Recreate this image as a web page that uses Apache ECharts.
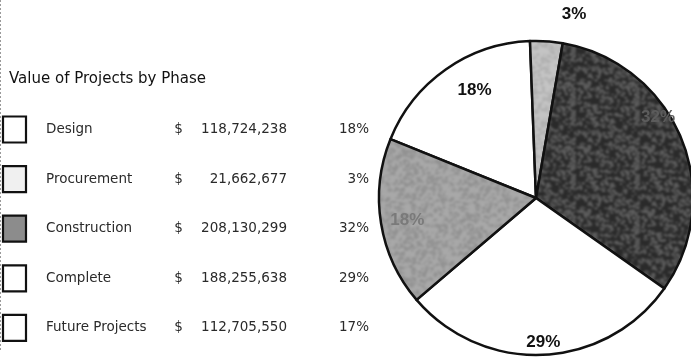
<!DOCTYPE html>
<html>
<head>
<meta charset="utf-8">
<script src="https://cdn.jsdelivr.net/npm/echarts@6/dist/echarts.min.js"></script>
<style>
  html, body { margin: 0; padding: 0; background: #ffffff; }
  #chart { width: 691px; height: 358px; }
</style>
</head>
<body>
<div id="chart"></div>
<script>
// ---- data ----
const tableTitle = 'Value of Projects by Phase';
const phases = ['Design', 'Procurement', 'Construction', 'Complete', 'Future Projects'];
const amounts = [118724238, 21662677, 208130299, 188255638, 112705550];

// ---- styling ----
const sliceBase = ['#ffffff', '#c4c4c4', '#2a2a2a', '#ffffff', '#a8a8a8'];
const sliceSpeck = [null, '#b0b0b0', '#5e5e5e', null, '#919191'];
const boxFills = ['#ffffff', '#f0f0f0', '#8c8c8c', '#ffffff', '#ffffff'];
const labelColors = ['#111111', '#111111', '#5c5c5c', '#111111', '#7a7a7a'];
const labelNudge = [[17, 4], [29, -47], [-4, -28], [1, 8], [6, 0]];

const pieCenter = [536, 198];
const pieRadius = 157;
const startAngle = 158;

// soft grainy fill for the shaded slices (fixed seed, so it draws the same every time)
function grainPattern(base, speck, seed) {
  const n = 64;
  const raw = document.createElement('canvas');
  raw.width = n; raw.height = n;
  const g = raw.getContext('2d');
  g.fillStyle = base;
  g.fillRect(0, 0, n, n);
  let s = seed;
  const next = () => { s = (s * 1103515245 + 12345) % 2147483648; return s / 2147483648; };
  g.fillStyle = speck;
  for (let i = 0; i < 420; i++) {
    const x = next() * n, y = next() * n;
    const w = 1 + next() * 3, h = 1 + next() * 2;
    g.fillRect(x, y, w, h);
  }
  // tile 3x3, blur once, keep the middle tile so the seams wrap cleanly
  const big = document.createElement('canvas');
  big.width = 3 * n; big.height = 3 * n;
  const bg = big.getContext('2d');
  for (let dx = 0; dx < 3; dx++) {
    for (let dy = 0; dy < 3; dy++) bg.drawImage(raw, dx * n, dy * n);
  }
  const soft = document.createElement('canvas');
  soft.width = 3 * n; soft.height = 3 * n;
  const sg = soft.getContext('2d');
  sg.filter = 'blur(0.8px)';
  sg.drawImage(big, 0, 0);
  const out = document.createElement('canvas');
  out.width = n; out.height = n;
  out.getContext('2d').drawImage(soft, n, n, n, n, 0, 0, n, n);
  return { image: out, repeat: 'repeat' };
}

const sliceFill = sliceBase.map((b, i) => sliceSpeck[i] ? grainPattern(b, sliceSpeck[i], 17 + i * 31) : b);

const total = amounts.reduce((a, b) => a + b, 0);
const tablePct = amounts.map(v => Math.round(v / total * 100) + '%');

// ---- table beside the pie ----
const rowTop = 129.5;
const rowStep = 49.6;
const textFont = '13.5px "DejaVu Sans"';
const textColor = '#2a2a2a';
const graphics = [
  { type: 'line', shape: { x1: 0.5, y1: 0, x2: 0.5, y2: 352 },
    style: { stroke: '#9a9a9a', lineWidth: 1, lineDash: [2, 2] }, silent: true },
  { type: 'text', x: 9, y: 79,
    style: { text: tableTitle, font: '15px "DejaVu Sans"', fill: '#111111', verticalAlign: 'middle' } }
];
phases.forEach((name, i) => {
  const y = rowTop + rowStep * i;
  graphics.push(
    { type: 'rect', shape: { x: 3, y: y - 13, width: 23, height: 26 },
      style: { fill: boxFills[i], stroke: '#111111', lineWidth: 2.2 } },
    { type: 'text', x: 46, y: y,
      style: { text: name, font: textFont, fill: textColor, verticalAlign: 'middle' } },
    { type: 'text', x: 178.5, y: y,
      style: { text: '$', font: textFont, fill: textColor, align: 'center', verticalAlign: 'middle' } },
    { type: 'text', x: 287, y: y,
      style: { text: amounts[i].toLocaleString('en-US'), font: textFont, fill: textColor, align: 'right', verticalAlign: 'middle' } },
    { type: 'text', x: 369, y: y,
      style: { text: tablePct[i], font: textFont, fill: textColor, align: 'right', verticalAlign: 'middle' } }
  );
});

const chart = echarts.init(document.getElementById('chart'), null, { renderer: 'canvas' });
chart.setOption({
  animation: false,
  backgroundColor: '#ffffff',
  graphic: graphics,
  series: [
    {
      type: 'pie',
      center: pieCenter,
      radius: [0, pieRadius],
      startAngle: startAngle,
      clockwise: true,
      silent: true,
      label: { show: false },
      labelLine: { show: false },
      itemStyle: { borderColor: '#111111', borderWidth: 2.5 },
      emphasis: { disabled: true },
      data: phases.map((n, i) => ({ name: n, value: amounts[i], itemStyle: { color: sliceFill[i] } }))
    },
    {
      // label ring: same slices, transparent, percentages placed in the outer band
      type: 'pie',
      center: pieCenter,
      radius: [110, pieRadius],
      startAngle: startAngle,
      clockwise: true,
      silent: true,
      percentPrecision: 0,
      itemStyle: { color: 'rgba(0,0,0,0)', borderWidth: 0 },
      emphasis: { disabled: true },
      labelLine: { show: false },
      label: {
        show: true,
        position: 'inside',
        formatter: '{d}%',
        fontFamily: '"Liberation Sans", Arial, sans-serif',
        fontWeight: 'bold',
        fontSize: 17
      },
      data: phases.map((n, i) => ({
        name: n, value: amounts[i],
        label: { color: labelColors[i], offset: labelNudge[i] }
      }))
    }
  ]
});
</script>
</body>
</html>
